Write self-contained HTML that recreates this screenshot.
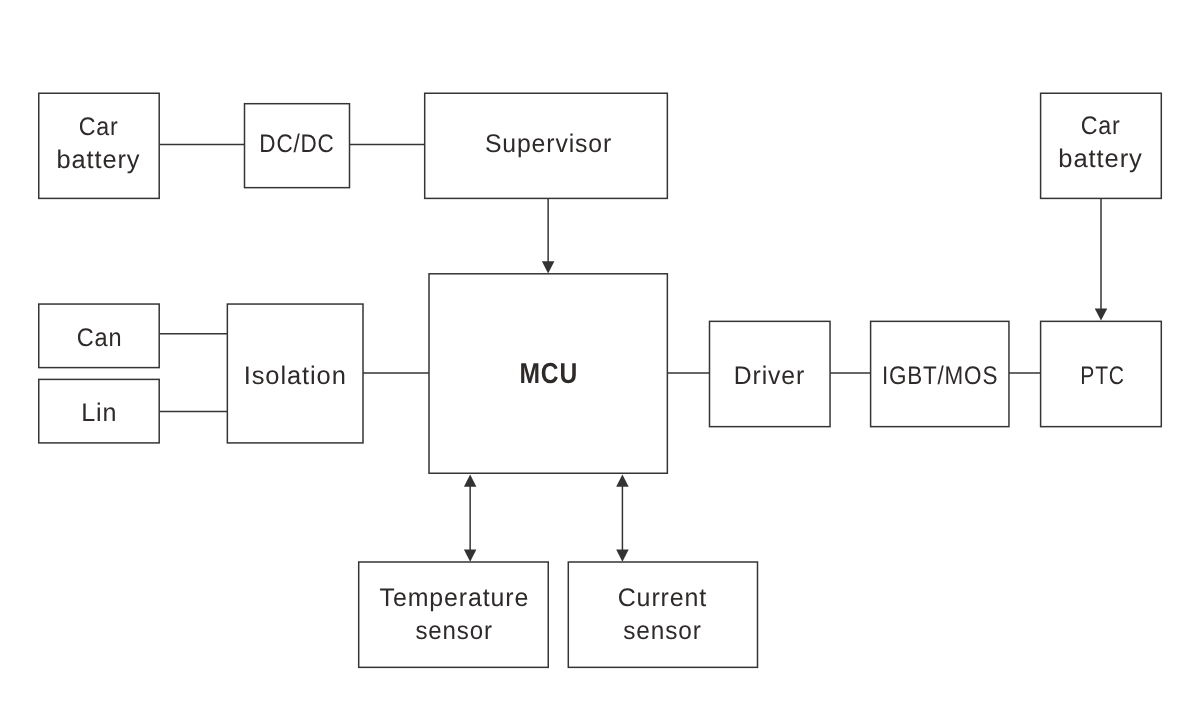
<!DOCTYPE html>
<html lang="en">
<head>
<meta charset="utf-8">
<title>PTC heater block diagram</title>
<style>
html,body{margin:0;padding:0;background:#fff;}
body{width:1200px;height:727px;overflow:hidden;}
svg{display:block;will-change:transform;}
.b{fill:#fff;stroke:#353535;stroke-width:1.5;}
.l{fill:none;stroke:#353535;stroke-width:1.5;}
.h{fill:#333;stroke:none;}
text{font-family:"Liberation Sans",sans-serif;font-size:25.4px;fill:#2e2a29;text-anchor:middle;text-rendering:geometricPrecision;letter-spacing:0.9px;}
text.m{font-size:28.9px;font-weight:700;}
</style>
</head>
<body>
<svg width="1200" height="727" viewBox="0 0 1200 727">
<rect x="0" y="0" width="1200" height="727" fill="#ffffff"/>

<g>
<line class="l" x1="159.2" y1="144.5" x2="244.5" y2="144.5"/>
<line class="l" x1="349.5" y1="144.5" x2="424.7" y2="144.5"/>
<line class="l" x1="159.2" y1="333.7" x2="227.35" y2="333.7"/>
<line class="l" x1="159.2" y1="411.4" x2="227.35" y2="411.4"/>
<line class="l" x1="363" y1="373" x2="429" y2="373"/>
<line class="l" x1="667.35" y1="373" x2="709.5" y2="373"/>
<line class="l" x1="830.05" y1="373" x2="870.6" y2="373"/>
<line class="l" x1="1008.95" y1="373" x2="1040.6" y2="373"/>
<line class="l" x1="548.13" y1="198.4" x2="548.13" y2="262"/>
<line class="l" x1="1101" y1="198.4" x2="1101" y2="309"/>
<line class="l" x1="470.15" y1="486" x2="470.15" y2="550"/>
<line class="l" x1="622.42" y1="486" x2="622.42" y2="550"/>
</g>
<g>
<polygon class="h" points="548.13,273.5 541.88,261.3 554.38,261.3"/>
<polygon class="h" points="1101,320.6 1094.75,308.4 1107.25,308.4"/>
<polygon class="h" points="470.15,474.6 463.9,486.8 476.4,486.8"/>
<polygon class="h" points="470.15,561.8 463.9,549.6 476.4,549.6"/>
<polygon class="h" points="622.42,474.6 616.17,486.8 628.67,486.8"/>
<polygon class="h" points="622.42,561.8 616.17,549.6 628.67,549.6"/>
</g>
<g>
<rect class="b" x="38.75" y="93.25" width="120.45" height="105.15"/>
<rect class="b" x="244.5" y="103.7" width="105" height="83.95"/>
<rect class="b" x="424.7" y="93.25" width="242.65" height="105.15"/>
<rect class="b" x="429" y="273.8" width="238.35" height="199.45"/>
<rect class="b" x="38.75" y="304.05" width="120.45" height="63.55"/>
<rect class="b" x="38.75" y="379.4" width="120.45" height="63.5"/>
<rect class="b" x="227.35" y="304.05" width="135.65" height="138.85"/>
<rect class="b" x="709.5" y="321.35" width="120.55" height="105.3"/>
<rect class="b" x="870.6" y="321.35" width="138.35" height="105.3"/>
<rect class="b" x="1040.6" y="321.35" width="120.7" height="105.3"/>
<rect class="b" x="1040.6" y="93.25" width="120.7" height="105.15"/>
<rect class="b" x="358.7" y="562" width="189.55" height="105.35"/>
<rect class="b" x="568.3" y="562" width="189.2" height="105.35"/>
</g>
<g>
<text transform="translate(98.72 134.8) scale(0.9154 1)">Car</text>
<text transform="translate(98.45 168.2) scale(1.0015 1)">battery</text>
<text transform="translate(296.98 152) scale(0.8867 1)">DC/DC</text>
<text transform="translate(548.52 152) scale(0.9762 1)">Supervisor</text>
<text class="m" transform="translate(548.77 383) scale(0.8525 1)">MCU</text>
<text transform="translate(99.6 346) scale(0.927 1)">Can</text>
<text transform="translate(99.23 421) scale(0.9878 1)">Lin</text>
<text transform="translate(295.2 384) scale(1.0033 1)">Isolation</text>
<text transform="translate(769.38 384) scale(0.9744 1)">Driver</text>
<text transform="translate(940.05 384) scale(0.8852 1)">IGBT/MOS</text>
<text transform="translate(1102.57 384) scale(0.8308 1)">PTC</text>
<text transform="translate(1100.71 133.6) scale(0.9166 1)">Car</text>
<text transform="translate(1100.56 167) scale(1.0064 1)">battery</text>
<text transform="translate(454.41 606) scale(0.9812 1)">Temperature</text>
<text transform="translate(454.12 639) scale(0.9484 1)">sensor</text>
<text transform="translate(662.44 606) scale(0.984 1)">Current</text>
<text transform="translate(662.5 639) scale(0.9613 1)">sensor</text>
</g>
</svg>
</body>
</html>
